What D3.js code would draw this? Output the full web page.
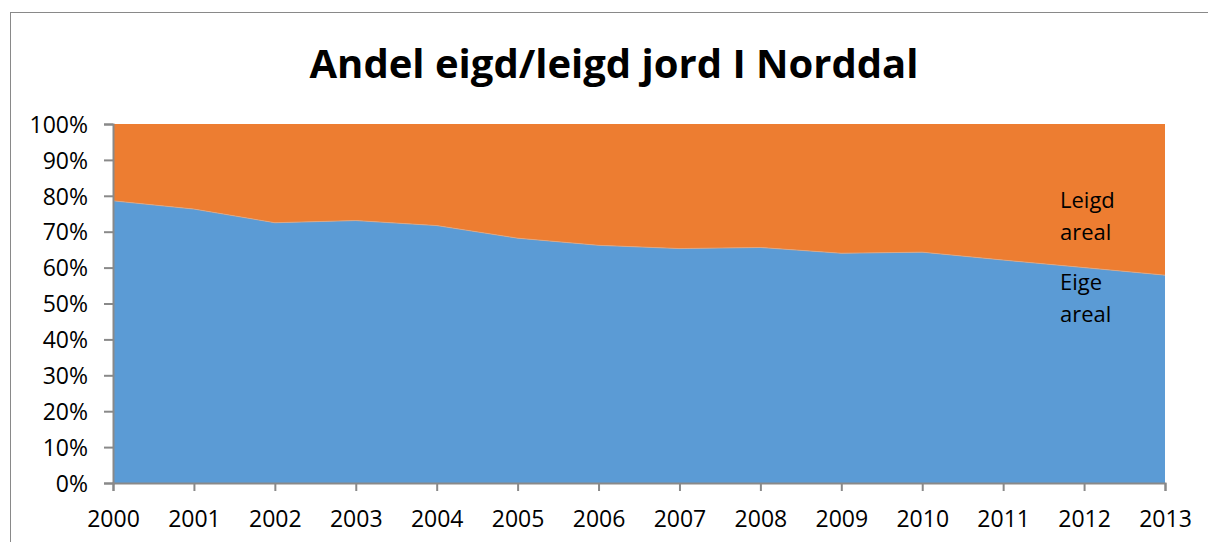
<!DOCTYPE html>
<html>
<head>
<meta charset="utf-8">
<script src="https://cdn.jsdelivr.net/npm/d3@7"></script>
<style>
  body { margin: 0; background: #fff; }
  text { font-family: "Open Sans", "Noto Sans", sans-serif; fill: #000; }
</style>
</head>
<body>
<div id="chart"></div>
<script>
var width = 1208;
var height = 542;

// data: share of own (Eige) vs rented (Leigd) land, percent
var years = [2000, 2001, 2002, 2003, 2004, 2005, 2006, 2007, 2008, 2009, 2010, 2011, 2012, 2013];
var eigeAreal = [78.6, 76.3, 72.5, 73.1, 71.7, 68.2, 66.2, 65.3, 65.6, 64.0, 64.3, 62.1, 60.0, 57.9];
var leigdAreal = eigeAreal.map(function (v) { return 100 - v; });
var yTicks = [0, 10, 20, 30, 40, 50, 60, 70, 80, 90, 100];
var seriesNames = ["Eige areal", "Leigd areal"];

var color = d3.scaleOrdinal()
    .domain(seriesNames)
    .range(["#5B9BD5", "#ED7D31"]);

var margin = {top: 124, right: 43, bottom: 59, left: 113};

var svg = d3.select('#chart')
    .append('svg')
    .attr('width', width)
    .attr('height', height);

// chart frame
svg.append('rect')
    .attr('x', 10.5)
    .attr('y', 12.5)
    .attr('width', 1210)
    .attr('height', 560)
    .attr('fill', 'none')
    .attr('stroke', '#898989')
    .attr('stroke-width', 1);

svg.append('text')
    .attr('x', 614)
    .attr('y', 78)
    .attr('text-anchor', 'middle')
    .style('font-size', '40px')
    .style('font-weight', 'bold')
    .text('Andel eigd/leigd jord I Norddal');

var x = d3.scaleLinear()
    .domain([years[0], years[years.length - 1]])
    .range([margin.left, width - margin.right]);

var y = d3.scaleLinear()
    .domain([0, 100])
    .range([height - margin.bottom, margin.top]);

var table = years.map(function (yr, i) {
    return {year: yr, "Eige areal": eigeAreal[i], "Leigd areal": leigdAreal[i]};
});

var stack = d3.stack().keys(seriesNames);
var layers = stack(table);

var area = d3.area()
    .x(function (d) { return x(d.data.year); })
    .y0(function (d) { return y(d[0]); })
    .y1(function (d) { return y(d[1]); });

svg.selectAll('.layer')
    .data(layers)
    .enter()
    .append('path')
    .attr('class', 'layer')
    .attr('d', area)
    .attr('fill', function (d) { return color(d.key); });

// thin light line on the boundary
svg.append('path')
    .datum(table)
    .attr('fill', 'none')
    .attr('stroke', '#d9a98a')
    .attr('stroke-width', 0.8)
    .attr('d', d3.line()
        .x(function (d) { return x(d.year); })
        .y(function (d) { return y(d["Eige areal"]); }));

// y axis
var yAxis = svg.append('g')
    .attr('transform', 'translate(' + margin.left + ',0)')
    .call(d3.axisLeft(y)
        .tickValues(yTicks)
        .tickSize(9)
        .tickPadding(16)
        .tickFormat(function (d) { return d + '%'; }));
yAxis.selectAll('text').style('font-size', '23px').attr('dy', '0.36em');

// x axis
var xAxis = svg.append('g')
    .attr('transform', 'translate(0,' + (height - margin.bottom) + ')')
    .call(d3.axisBottom(x)
        .tickValues(years)
        .tickSize(8)
        .tickPadding(20)
        .tickFormat(d3.format('d')));
xAxis.selectAll('text').style('font-size', '23px');

svg.selectAll('.domain, .tick line')
    .attr('stroke', '#898989')
    .attr('stroke-width', 2);

// series labels
var labels = [
    {lines: ["Leigd", "areal"], y: 208},
    {lines: ["Eige", "areal"], y: 290}
];
labels.forEach(function (l) {
    var t = svg.append('text')
        .attr('x', 1060)
        .attr('y', l.y)
        .style('font-size', '22px');
    l.lines.forEach(function (s, i) {
        t.append('tspan')
            .attr('x', 1060)
            .attr('dy', i === 0 ? 0 : 32)
            .text(s);
    });
});
</script>
</body>
</html>
